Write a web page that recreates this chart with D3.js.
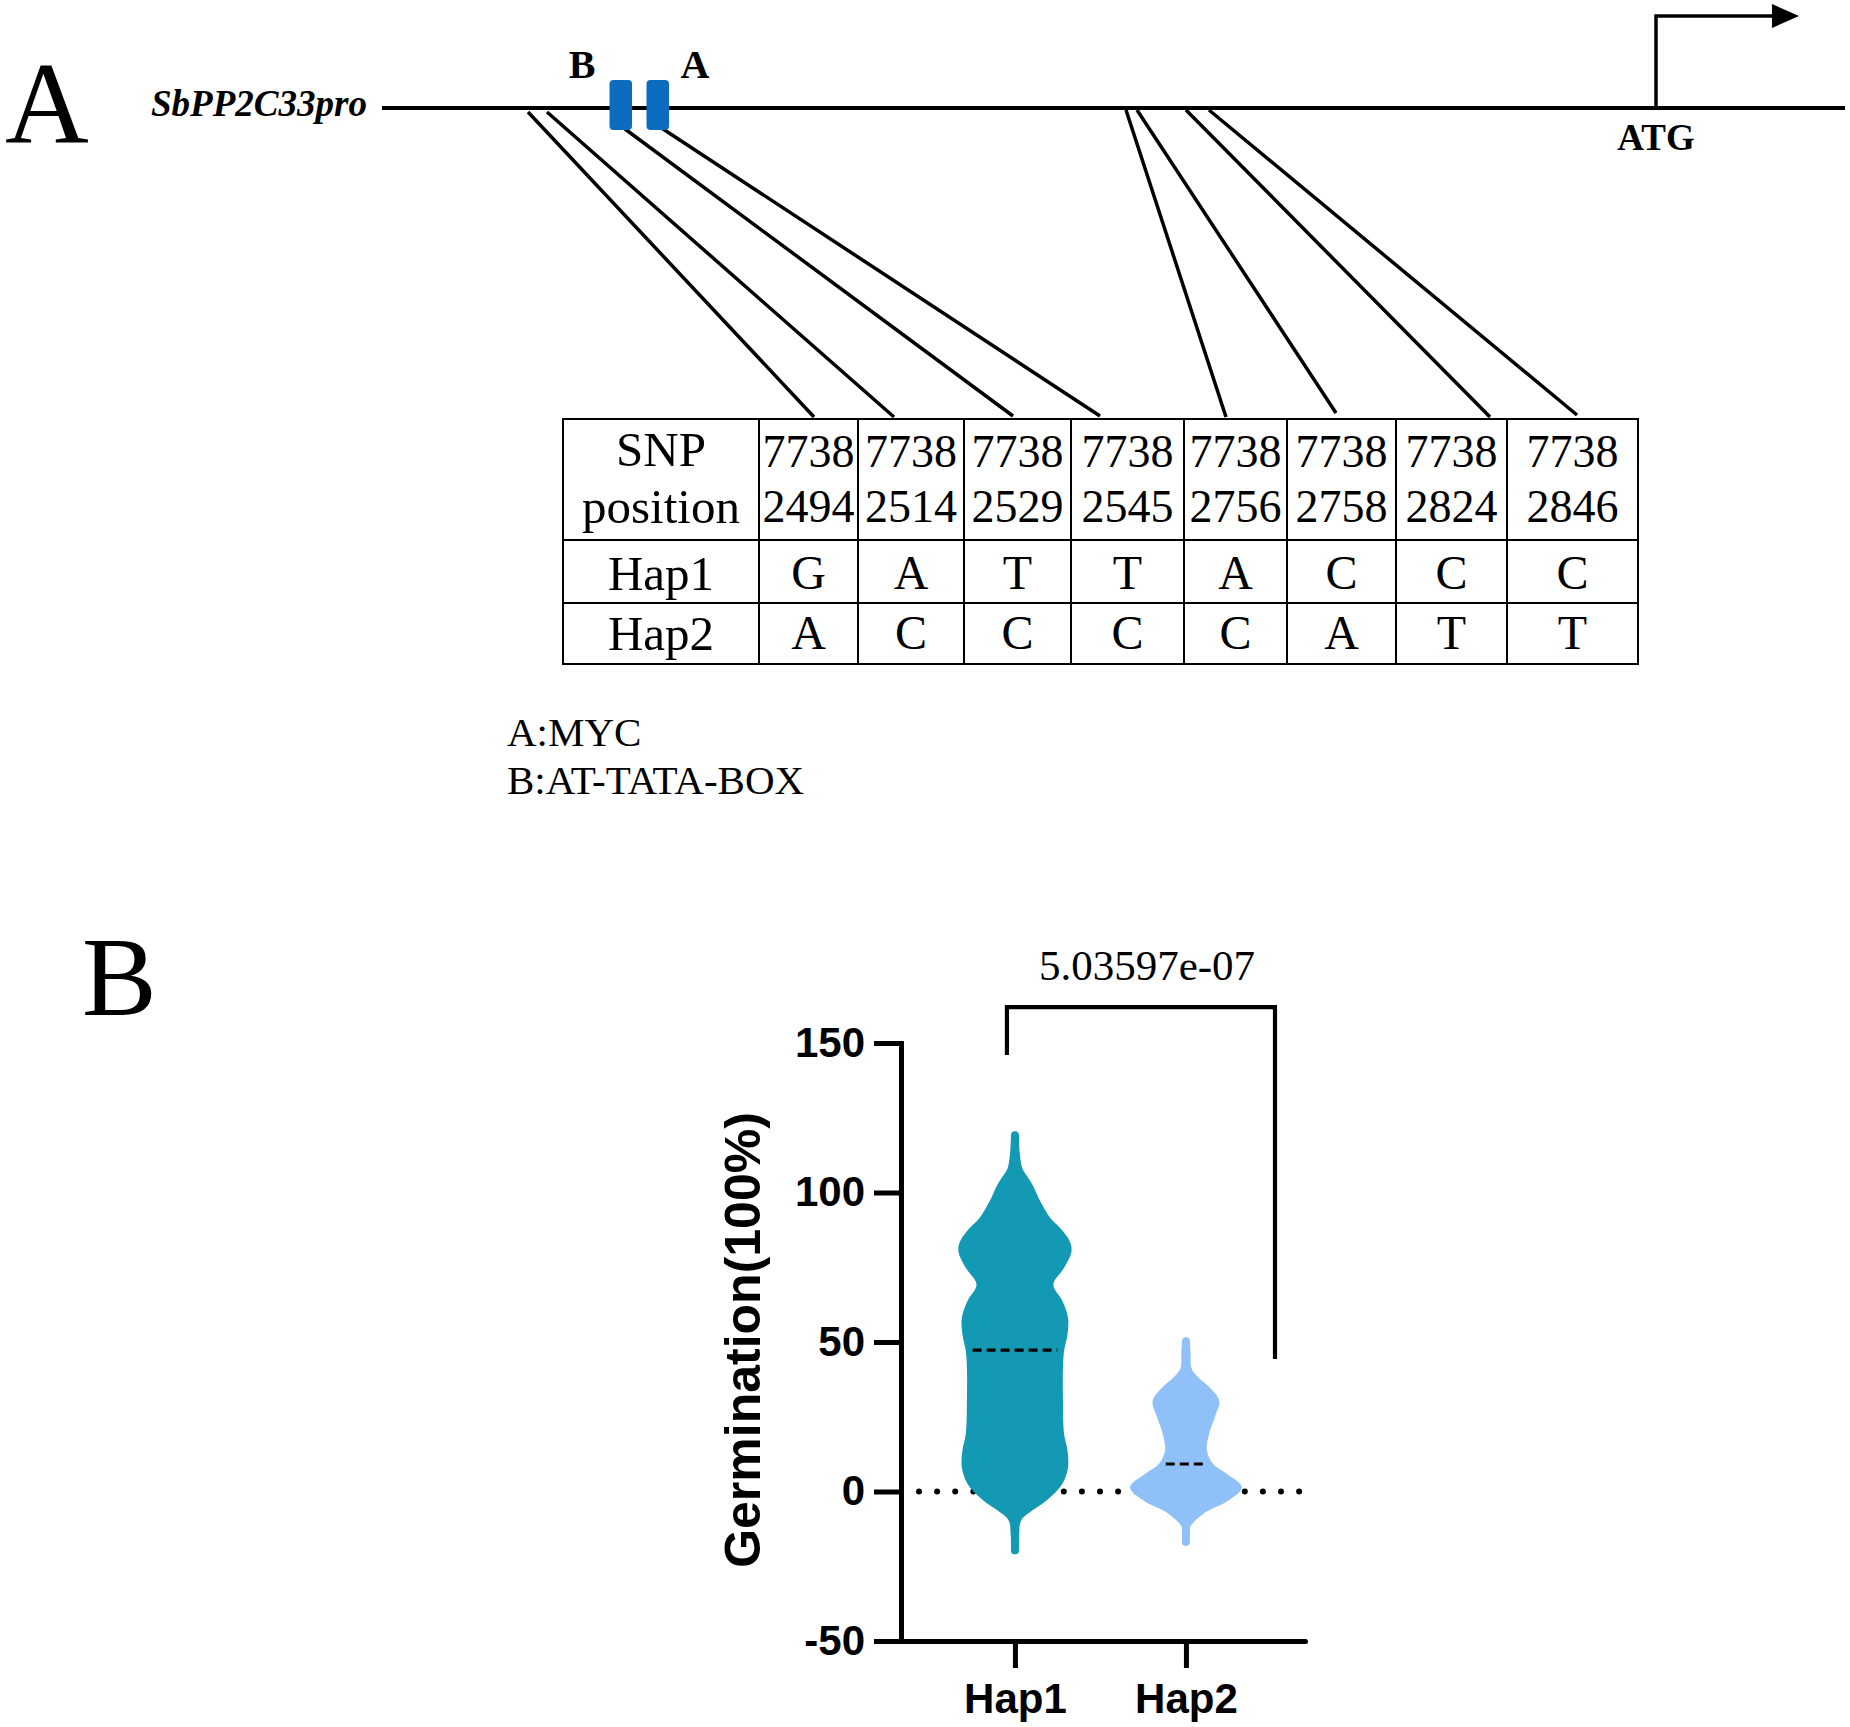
<!DOCTYPE html>
<html>
<head>
<meta charset="utf-8">
<script src="https://cdn.jsdelivr.net/npm/d3@7/dist/d3.min.js"></script>
<style>
  html, body { margin: 0; padding: 0; background: #fff; }
  svg { display: block; }
</style>
</head>
<body>
<svg id="fig" width="1850" height="1727"></svg>
<script>
// ---------------- DATA ----------------
const geneName = "SbPP2C33pro";
const motifLabels = ["B", "A"];
const motifLegend = ["A:MYC", "B:AT-TATA-BOX"];
const snpPositions = ["77382494","77382514","77382529","77382545","77382756","77382758","77382824","77382846"];
const hap1Alleles = ["G","A","T","T","A","C","C","C"];
const hap2Alleles = ["A","C","C","C","C","A","T","T"];
const haplotypes = ["Hap1", "Hap2"];

// violin outlines: [value, relative density]
const hap1Violin = [[-19.7,0.07],[-14.1,0.076],[-9.7,0.11],[-6.3,0.31],[-3,0.56],[2.6,0.84],[8.1,0.94],[13.7,0.93],[19.2,0.87],[30.3,0.85],[41.4,0.85],[47,0.87],[52.6,0.93],[58.1,0.94],[63.7,0.84],[69.2,0.68],[74.8,0.87],[80.3,1.0],[83.7,0.97],[88.1,0.80],[91.4,0.63],[97,0.45],[102.6,0.31],[105.6,0.21],[108.1,0.13],[113.7,0.083],[119.2,0.07]];
const hap2Violin = [[-16.9,0.07],[-11.9,0.076],[-7.4,0.31],[-3,0.75],[1.4,0.99],[5.9,0.72],[9.2,0.48],[13.7,0.37],[19.2,0.41],[24.8,0.51],[30.3,0.59],[34.8,0.42],[38.1,0.22],[41.4,0.094],[45.9,0.083],[50.3,0.07]];
const medians = [47.3, 9.2];
const yTicks = [-50, 0, 50, 100, 150];
const pValueText = "5.03597e-07";
const bracketValues = { top: 162, leftEnd: 146, rightEnd: 44.3 };

// ---------------- LAYOUT ----------------
const serif = "'Liberation Serif','Times New Roman',serif";
const sans = "'Liberation Sans',Arial,sans-serif";
const svg = d3.select("#fig");

// ===== Panel A =====
svg.append("text").attr("x", 5).attr("y", 143).attr("font-family", serif)
  .attr("font-size", 116).text("A");

svg.append("text").attr("x", 151).attr("y", 116).attr("font-family", serif)
  .attr("font-size", 37).attr("font-weight", "bold").attr("font-style", "italic")
  .attr("textLength", 216).attr("lengthAdjust", "spacingAndGlyphs").text(geneName);

const lineY = 108;
svg.append("line").attr("x1", 382).attr("x2", 1845).attr("y1", lineY).attr("y2", lineY)
  .attr("stroke", "#000").attr("stroke-width", 4);

// connector lines from promoter to table columns
const connTop = [[528,112],[547,112],[625,129],[660,127],[1126,110],[1137,110],[1186,110],[1209,110]];
const connBottom = [[814,417],[894,417],[1013,416],[1100,416],[1226,417],[1336,413],[1490,417],[1577,415]];
svg.append("g").selectAll("line").data(snpPositions).join("line")
  .attr("x1", (d,i) => connTop[i][0]).attr("y1", (d,i) => connTop[i][1])
  .attr("x2", (d,i) => connBottom[i][0]).attr("y2", (d,i) => connBottom[i][1])
  .attr("stroke", "#000").attr("stroke-width", 3.5);

// motif boxes
const boxX = [609.5, 646.5];
svg.append("g").selectAll("rect").data(motifLabels).join("rect")
  .attr("x", (d,i) => boxX[i]).attr("y", 80).attr("width", 22.5).attr("height", 50)
  .attr("rx", 4).attr("fill", "#0b6cc0");
const motifLabelX = [582, 695];
svg.append("g").selectAll("text").data(motifLabels).join("text")
  .attr("x", (d,i) => motifLabelX[i]).attr("y", 78).attr("text-anchor", "middle")
  .attr("font-family", serif).attr("font-size", 40).attr("font-weight", "bold").text(d => d);

// TSS arrow
svg.append("path").attr("d", "M1656,108 V16 H1777").attr("fill", "none")
  .attr("stroke", "#000").attr("stroke-width", 3.5);
svg.append("path").attr("d", "M1772,4 L1799,16 L1772,28 Z").attr("fill", "#000");
svg.append("text").attr("x", 1656).attr("y", 150).attr("text-anchor", "middle")
  .attr("font-family", serif).attr("font-size", 37).attr("font-weight", "bold").text("ATG");

// SNP table
const colEdges = [563, 759, 858, 964, 1071, 1184, 1287, 1396, 1507, 1638];
const rowEdges = [419, 540, 603, 664];
const tbl = svg.append("g").attr("font-family", serif).attr("text-anchor", "middle");
tbl.selectAll("line.v").data(colEdges).join("line").attr("class", "v")
  .attr("x1", d => d).attr("x2", d => d).attr("y1", rowEdges[0]).attr("y2", rowEdges[3])
  .attr("stroke", "#000").attr("stroke-width", 2);
tbl.selectAll("line.h").data(rowEdges).join("line").attr("class", "h")
  .attr("y1", d => d).attr("y2", d => d).attr("x1", colEdges[0] - 1).attr("x2", colEdges[colEdges.length-1] + 1)
  .attr("stroke", "#000").attr("stroke-width", 2);
const colCenter = i => (colEdges[i] + colEdges[i+1]) / 2;
const wordSize = 49, digitSize = 46, alleleSize = 48;
tbl.append("text").attr("x", colCenter(0)).attr("y", 466).attr("font-size", wordSize).text("SNP");
tbl.append("text").attr("x", colCenter(0)).attr("y", 523).attr("font-size", wordSize).text("position");
tbl.append("text").attr("x", colCenter(0)).attr("y", 590).attr("font-size", wordSize).text(haplotypes[0]);
tbl.append("text").attr("x", colCenter(0)).attr("y", 650).attr("font-size", wordSize).text(haplotypes[1]);
snpPositions.forEach((p, i) => {
  tbl.append("text").attr("x", colCenter(i+1)).attr("y", 467).attr("font-size", digitSize).text(p.slice(0, 4));
  tbl.append("text").attr("x", colCenter(i+1)).attr("y", 522).attr("font-size", digitSize).text(p.slice(4));
  tbl.append("text").attr("x", colCenter(i+1)).attr("y", 589).attr("font-size", alleleSize).text(hap1Alleles[i]);
  tbl.append("text").attr("x", colCenter(i+1)).attr("y", 649).attr("font-size", alleleSize).text(hap2Alleles[i]);
});

// legend
svg.append("g").selectAll("text").data(motifLegend).join("text")
  .attr("x", 507).attr("y", (d,i) => 746 + i * 47.5)
  .attr("font-family", serif).attr("font-size", 41).text(d => d);

// ===== Panel B =====
svg.append("text").attr("x", 82).attr("y", 1015).attr("font-family", serif)
  .attr("font-size", 112).text("B");

const y = d3.scaleLinear().domain([-50, 150]).range([1641, 1043]);
const x = d3.scalePoint().domain(haplotypes).range([901, 1305]).padding(0.6813).align(0.489);
const w = d3.scaleLinear().domain([0, 1]).range([0, 56.5]);
const colors = ["#1399b3", "#90c0f8"];
const violins = [hap1Violin, hap2Violin];

// dotted zero line (behind violins)
svg.append("line").attr("x1", 919).attr("x2", 1300).attr("y1", y(0)).attr("y2", y(0))
  .attr("stroke", "#000").attr("stroke-width", 6).attr("stroke-linecap", "round")
  .attr("stroke-dasharray", "0 18.1");

const area = d3.area().curve(d3.curveCatmullRom.alpha(0.5));
haplotypes.forEach((h, i) => {
  const cx = x(h), v = violins[i];
  svg.append("path").datum(v)
    .attr("d", area.y(d => y(d[0])).x0(d => cx - w(d[1])).x1(d => cx + w(d[1])))
    .attr("fill", colors[i]);
  // rounded tips
  svg.append("line").attr("x1", cx).attr("x2", cx)
    .attr("y1", y(v[0][0])).attr("y2", y(v[v.length-1][0]))
    .attr("stroke", colors[i]).attr("stroke-width", 2 * w(0.07)).attr("stroke-linecap", "round");
  // median dashed line
  const dens = d3.scaleLinear().domain(v.map(d => d[0])).range(v.map(d => d[1]));
  const hw = w(dens(medians[i])) - 7;
  svg.append("line").attr("x1", cx - hw).attr("x2", cx + hw)
    .attr("y1", y(medians[i])).attr("y2", y(medians[i]))
    .attr("stroke", "#000").attr("stroke-width", 3.2).attr("stroke-dasharray", "9 5");
});

// axes
const yAxis = svg.append("g").attr("transform", "translate(901,0)")
  .call(d3.axisLeft(y).tickValues(yTicks).tickSize(27).tickSizeOuter(0).tickPadding(9).tickFormat(d => String(d)));
yAxis.select(".domain").attr("stroke-width", 5).attr("stroke-linecap", "square");
yAxis.selectAll(".tick line").attr("stroke-width", 5);
yAxis.selectAll(".tick text").attr("font-family", sans).attr("font-size", 42).attr("font-weight", "bold").attr("fill", "#000");

const xAxis = svg.append("g").attr("transform", "translate(0,1641)")
  .call(d3.axisBottom(x).tickSize(27).tickSizeOuter(0).tickPadding(15));
xAxis.select(".domain").attr("stroke-width", 5).attr("stroke-linecap", "round");
xAxis.selectAll(".tick line").attr("stroke-width", 5);
xAxis.selectAll(".tick text").attr("font-family", sans).attr("font-size", 42).attr("font-weight", "bold").attr("fill", "#000");

// y axis title
svg.append("text").attr("transform", "translate(760,1340) rotate(-90)")
  .attr("text-anchor", "middle").attr("font-family", sans).attr("font-size", 50)
  .attr("font-weight", "bold").text("Germination(100%)");

// significance bracket
const bl = x(haplotypes[0]) - 8, br = x.range()[1] - 30;
svg.append("path")
  .attr("d", `M${bl},${y(bracketValues.leftEnd)} V${y(bracketValues.top)} H${br} V${y(bracketValues.rightEnd)}`)
  .attr("fill", "none").attr("stroke", "#000").attr("stroke-width", 4.2);
svg.append("text").attr("x", (bl + br) / 2 + 6).attr("y", 980).attr("text-anchor", "middle")
  .attr("font-family", serif).attr("font-size", 43).text(pValueText);
</script>
</body>
</html>
